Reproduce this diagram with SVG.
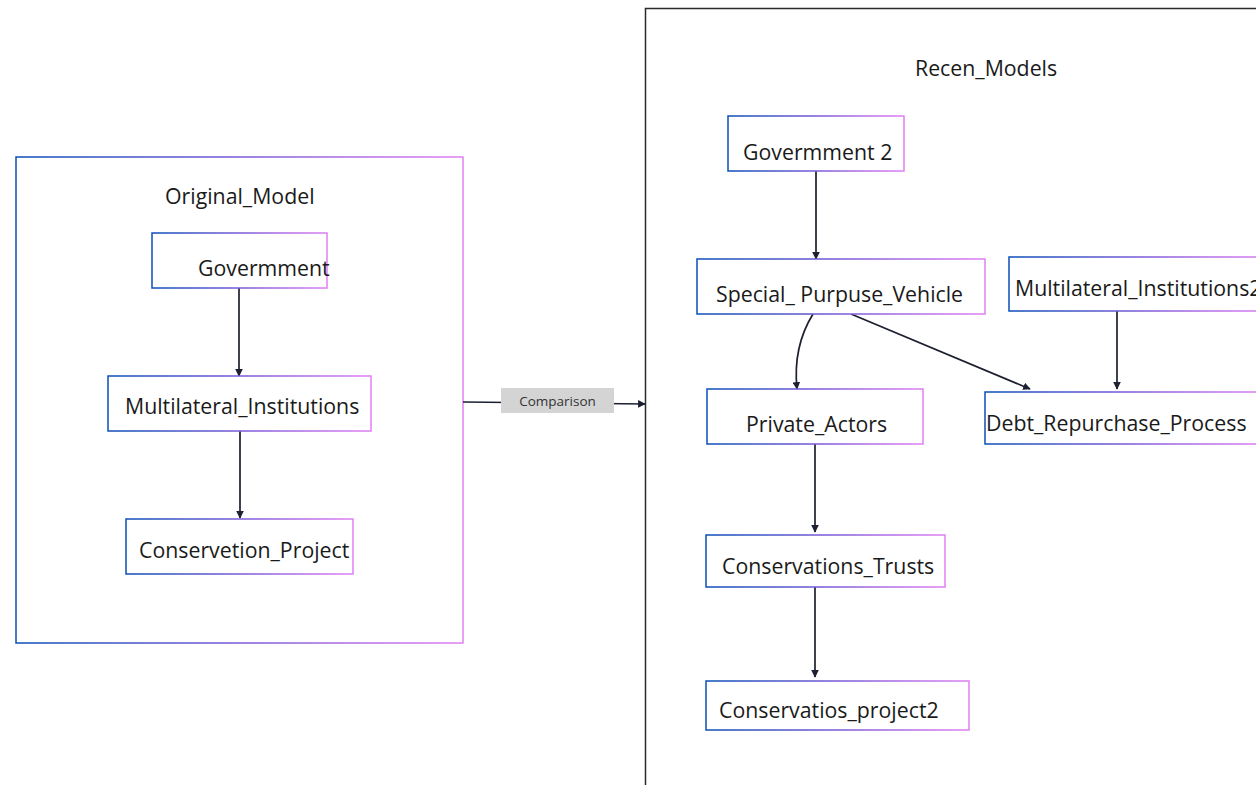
<svg xmlns="http://www.w3.org/2000/svg" width="1256" height="785" viewBox="0 0 1256 785">
<defs>
<linearGradient id="g" x1="0" y1="0" x2="1" y2="0">
<stop offset="0" stop-color="#0a4fb8"/>
<stop offset="0.5" stop-color="#7a5ad8"/>
<stop offset="1" stop-color="#e07ff2"/>
</linearGradient>
<marker id="ah" viewBox="0 0 10 10" refX="9" refY="5" markerWidth="4.5" markerHeight="4.5" orient="auto-start-reverse" markerUnits="strokeWidth">
<path d="M0,0 L10,5 L0,10 z" fill="#1c2030"/>
</marker>
<style>
.box{fill:#fff;stroke:url(#g);stroke-width:1.5}
.t{font-family:"Open Sans","Noto Sans",sans-serif;font-size:21.3px;fill:#1a1a1a}
.e{fill:none;stroke:#1c2030;stroke-width:1.7;marker-end:url(#ah)}
.small{font-family:"Open Sans","Noto Sans",sans-serif;font-size:13.5px;fill:#333}
</style>
</defs>
<rect width="1256" height="785" fill="#fff"/>
<g id="original_model">
<rect class="box" x="16" y="157" width="447" height="486"/>
<text class="t" x="165" y="204">Original_Model</text>
</g>
<g id="recen_models">
<path d="M645.5,785 L645.5,8.5 L1260,8.5" fill="none" stroke="#2a2a2a" stroke-width="1.5"/>
<text class="t" x="915" y="76">Recen_Models</text>
</g>
<g id="edges">
<path class="e" d="M239,288 L239,376"/>
<path class="e" d="M240,431 L240,518"/>
<path class="e" d="M463,402 L645,404"/>
<path class="e" d="M816,171 L816,259"/>
<path class="e" d="M813,314 C800,335 794,360 797,389"/>
<path class="e" d="M851,314 L1030,389"/>
<path class="e" d="M1117,311 L1117,389"/>
<path class="e" d="M815,444 L815,532"/>
<path class="e" d="M815,587 L815,677"/>
</g>
<g id="label_comparison">
<rect x="501" y="388" width="113" height="25" fill="#d4d4d4"/>
<text class="small" x="557.5" y="406" text-anchor="middle">Comparison</text>
</g>
<g id="govermment">
<rect class="box" x="152" y="233" width="175" height="55"/>
<text class="t" x="198" y="276">Govermment</text>
</g>
<g id="multilateral_institutions">
<rect class="box" x="108" y="376" width="263" height="55"/>
<text class="t" x="125" y="414">Multilateral_Institutions</text>
</g>
<g id="conservetion_project">
<rect class="box" x="126" y="519" width="227" height="55"/>
<text class="t" x="139" y="558">Conservetion_Project</text>
</g>
<g id="govermment2">
<rect class="box" x="728" y="116" width="176" height="55"/>
<text class="t" x="743" y="160">Govermment 2</text>
</g>
<g id="special_purpuse_vehicle">
<rect class="box" x="697" y="259" width="288" height="55"/>
<text class="t" x="716" y="302">Special_ Purpuse_Vehicle</text>
</g>
<g id="multilateral_institutions2">
<rect class="box" x="1009" y="257" width="260" height="54"/>
<text class="t" x="1015" y="296">Multilateral_Institutions2</text>
</g>
<g id="private_actors">
<rect class="box" x="707" y="389" width="216" height="55"/>
<text class="t" x="746" y="432">Private_Actors</text>
</g>
<g id="debt_repurchase_process">
<rect class="box" x="985" y="392" width="280" height="52"/>
<text class="t" x="986" y="431">Debt_Repurchase_Process</text>
</g>
<g id="conservations_trusts">
<rect class="box" x="706" y="535" width="239" height="52"/>
<text class="t" x="722" y="574">Conservations_Trusts</text>
</g>
<g id="conservatios_project2">
<rect class="box" x="706" y="681" width="263" height="49"/>
<text class="t" x="719" y="718">Conservatios_project2</text>
</g>
</svg>
